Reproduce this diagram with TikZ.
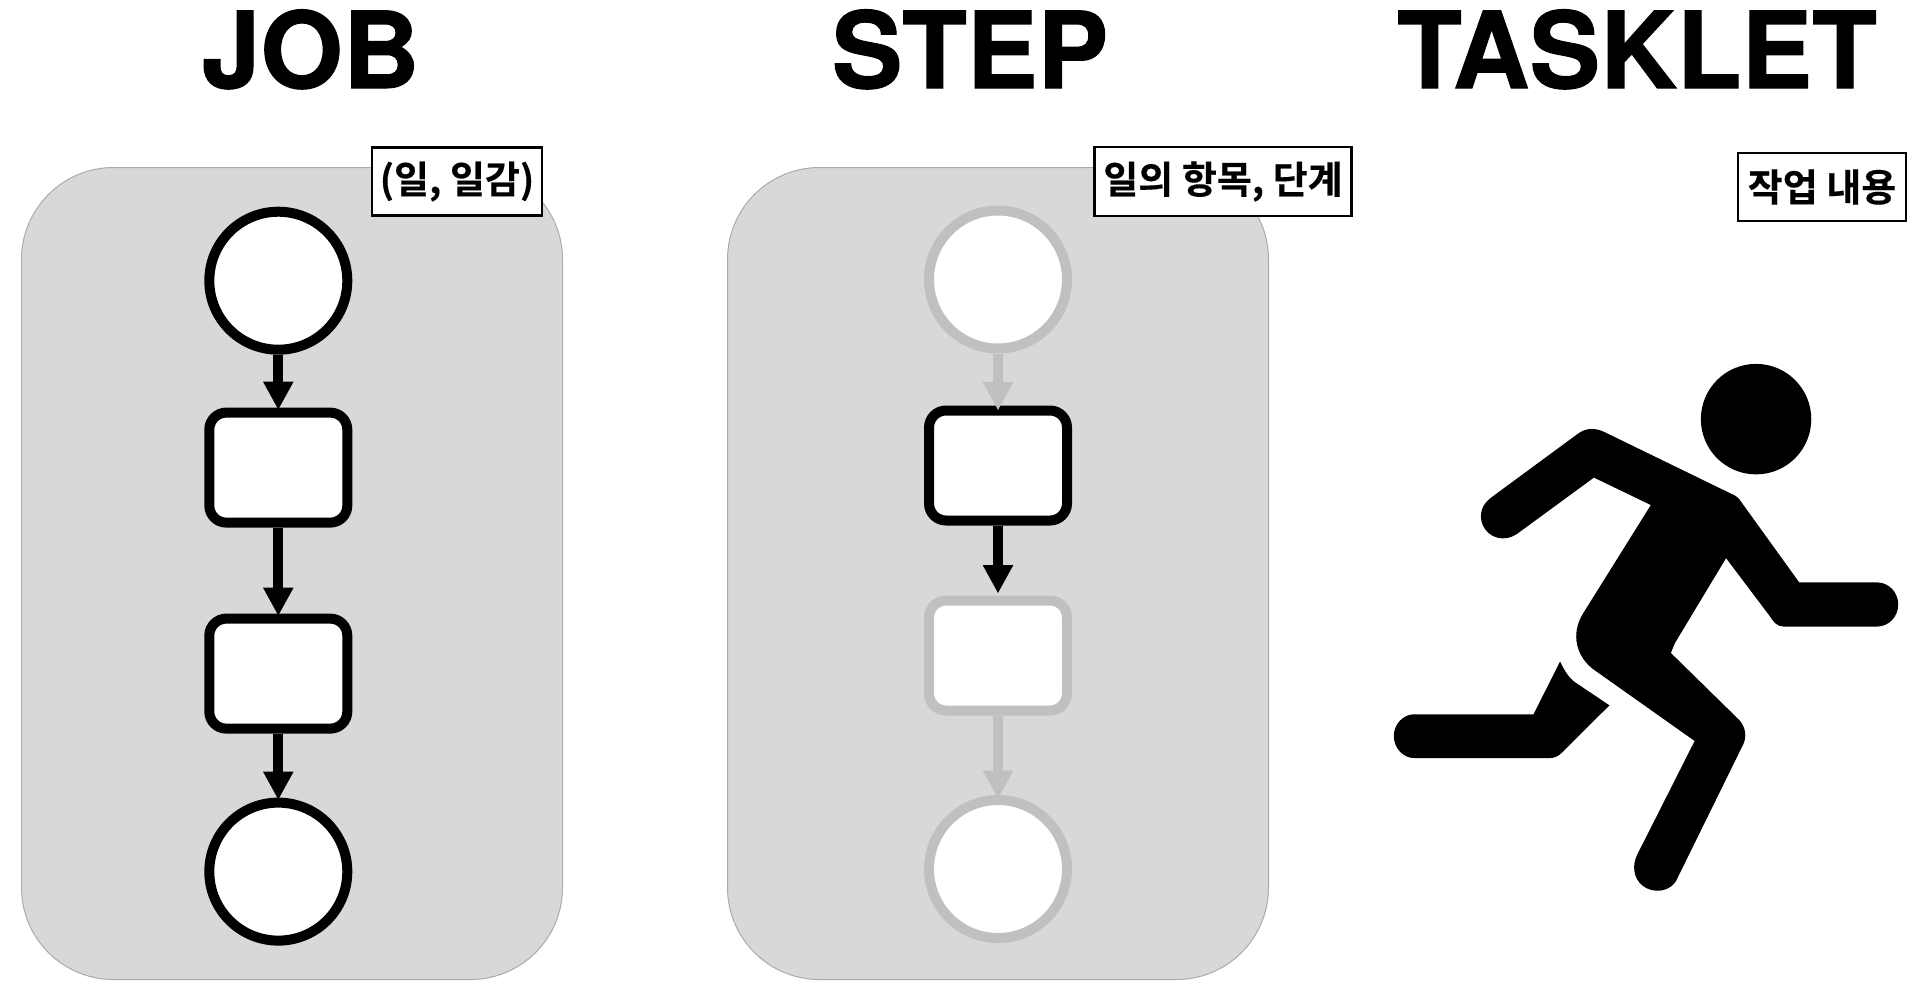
\documentclass[tikz,border=0pt]{standalone}
\usepackage{fontspec}
\setmainfont{TeX Gyre Heros}
\newfontfamily\headfont{TeX Gyre Heros Bold}[FakeBold=1]
\newfontfamily\kofont{Noto Sans CJK KR Bold}[FakeBold=0.3]
\usetikzlibrary{arrows.meta}
\definecolor{panelgray}{HTML}{D8D8D8}
\definecolor{panelline}{HTML}{ABABAB}
\definecolor{fadegray}{HTML}{C0C0C0}
\tikzset{
  px/.style={x=0.5pt,y=-0.5pt},
  panel/.style={draw=panelline,fill=panelgray,line width=0.5pt,rounded corners=46pt,minimum width=270.5pt,minimum height=406pt,inner sep=0pt,anchor=north west},
  headline/.style={font=\headfont\fontsize{53}{53}\selectfont,inner sep=0pt,anchor=base},
  tag/.style={draw=black,fill=white,line width=1.25pt,inner sep=0pt,font=\kofont\fontsize{19}{19}\selectfont},
  startend/.style={circle,draw=#1,fill=white,line width=5pt,minimum size=69pt,inner sep=0pt},
  stagebox/.style={draw=#1,fill=white,line width=5pt,rounded corners=8.5pt,minimum width=69pt,minimum height=55pt,inner sep=0pt},
  flow/.style={draw=#1,line width=5pt,-{Triangle[width=14.2pt,length=14.2pt,fill=#1]}},
}
\begin{document}
\begin{tikzpicture}[px]
\useasboundingbox (0,0) rectangle (1922,998);
\node[panel] (panelA) at (21,167) {};
\node[panel] (panelB) at (727,167) {};
\node[headline] (titleA) at (310.5,88) {JOB};
\node[headline] (titleB) at (970,88) {STEP};
\node[headline] (titleC) at (1637,88) {TASKLET};
\node[tag,minimum width=85pt,minimum height=34pt] (tagA) at (457,181.5) {(일, 일감)};
\node[tag,minimum width=128.5pt,minimum height=34.5pt] (tagB) at (1223,181.5) {일의 항목, 단계};
\node[tag,minimum width=84pt,minimum height=34pt] (tagC) at (1822,187) {작업 내용};
\node[startend=black] (a1) at (278.3,280.7) {};
\node[stagebox=black] (a2) at (278.3,467.6) {};
\node[stagebox=black] (a3) at (278.3,673.6) {};
\node[startend=black] (a4) at (278.3,871.6) {};
\draw[flow=black,shorten >=-1.2pt] (a1) -- (a2);
\draw[flow=black,shorten >=-1.2pt] (a2) -- (a3);
\draw[flow=black,shorten >=-1.2pt] (a3) -- (a4);
\node[startend=fadegray] (b1) at (998,279.5) {};
\node[stagebox=fadegray] (b3) at (998,655.5) {};
\node[startend=fadegray] (b4) at (998,869) {};
\node[stagebox=black] (b2) at (998,465.5) {};
\draw[flow=fadegray,shorten >=-2.5pt] (b1) -- (b2);
\draw[flow=black,shorten >=1pt] (b2) -- (b3);
\draw[flow=fadegray,shorten >=-2pt] (b3) -- (b4);
\begin{scope}[shift={(1380,340)},x=0.1725pt,y=-0.1782pt]
\fill (1090,222) ellipse [x radius=160,y radius=155];
\fill (325,440) -- (575,262) .. controls (600,245) and (625,247) .. (650,258)
 -- (1030,437) -- (1040,445) -- (1215,680) -- (1440,680)
 .. controls (1475,680) and (1502,708) .. (1502,742) .. controls (1502,776) and (1475,804) .. (1440,804) -- (1170,804)
 .. controls (1150,804) and (1140,790) .. (1130,775) -- (1003,612) -- (855,850) -- (843,878)
 -- (1040,1065) .. controls (1060,1085) and (1065,1115) .. (1050,1140)
 -- (862,1510) .. controls (845,1550) and (790,1555) .. (760,1530)
 .. controls (735,1510) and (730,1475) .. (745,1445) -- (912,1125) -- (620,925)
 .. controls (570,890) and (550,825) .. (590,765) -- (785,463) -- (620,386) -- (400,542)
 .. controls (360,570) and (315,555) .. (298,520) .. controls (285,490) and (295,460) .. (325,440) -- cycle;
\fill (522,902) .. controls (535,930) and (550,950) .. (565,960) -- (665,1025) -- (530,1155)
 .. controls (515,1170) and (505,1173) .. (490,1173) -- (100,1173)
 .. controls (67,1173) and (40,1145) .. (40,1111) .. controls (40,1078) and (67,1050) .. (100,1050) -- (445,1050) -- cycle;
\end{scope}
\end{tikzpicture}
\end{document}
